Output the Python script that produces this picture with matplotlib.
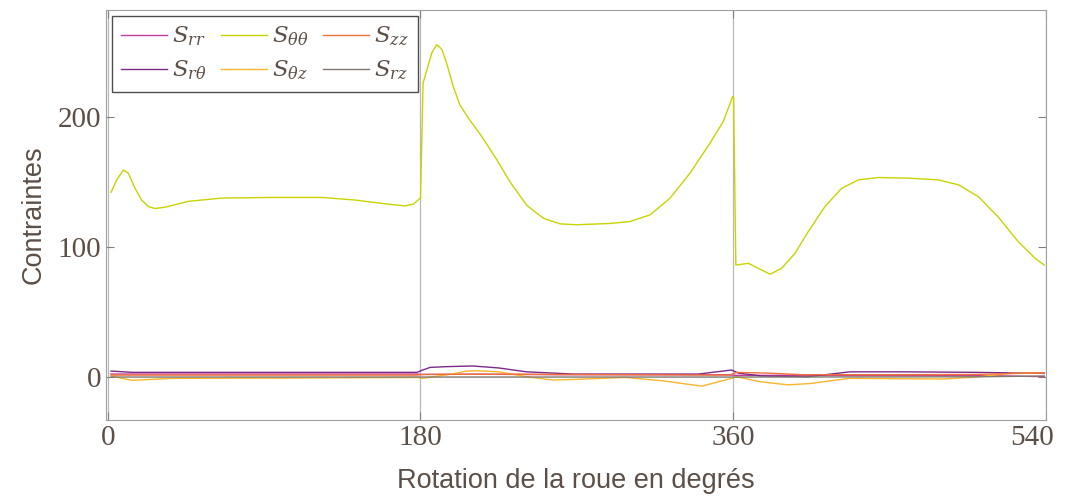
import matplotlib
matplotlib.use('Agg')
import matplotlib.pyplot as plt
from matplotlib.transforms import ScaledTranslation

plt.rcParams['mathtext.fontset'] = 'dejavuserif'

text_col = '#5b4f47'

# S_theta_theta (main curve)
x_tt = [1.9, 5.2, 9.0, 11.8, 15.7, 19.5, 23.3, 27.2, 33.0, 46.4, 65.6, 94.4,
        123.1, 142.3, 161.5, 171.1, 175.9, 179.2, 180.0, 181.5, 186.5, 189.3,
        192.2, 195.1, 198.9, 202.7, 207.5, 215.2, 223.9, 231.5, 241.1, 250.7,
        260.3, 269.9, 289.1, 300.6, 312.1, 323.6, 335.1, 346.6, 354.3, 359.7,
        360.2, 361.5, 368.7, 374.4, 381.2, 387.9, 395.5, 403.2, 412.8, 422.4,
        432.0, 443.5, 460.8, 478.0, 489.6, 501.0, 512.5, 524.0, 533.7, 539.0]
y_tt = [142, 151.5, 159, 156.7, 145, 136, 131, 129.5, 130.5, 135, 137.5, 138,
        138, 136, 132.8, 131.5, 132.8, 136.7, 137.5, 226, 249, 255.4,
        252, 241, 223, 209, 199, 185, 167, 150, 132, 122,
        117.7, 117, 118, 119.5, 124.6, 137.4, 156.6, 179.7, 196.4, 215.6,
        215, 86, 87.4, 83.6, 79, 83.6, 95, 111.8, 131, 145,
        151.5, 153.3, 152.8, 151.5, 147.7, 138.7, 123, 104, 91.3, 86]

# small components
x_rt = [1.9, 14, 60, 120, 178, 180.5, 185.5, 195, 210, 225, 241, 268, 300, 340,
        359, 363, 376.5, 403, 427, 460, 500, 539]
s_rt = [4.6, 3.6, 3.6, 3.6, 3.6, 5.0, 7.4, 8.0, 8.5, 7.0, 4.0, 2.3, 2.3, 2.3,
        5.4, 3.0, 0.8, 0.2, 4.0, 4.0, 3.6, 2.8]

x_rr = [1.9, 20, 100, 178, 181, 210, 260, 300, 355, 362, 400, 450, 500, 539]
s_rr = [2.3, 2.3, 2.3, 2.3, 2.0, 2.2, 1.8, 1.8, 1.8, 1.3, 1.3, 1.3, 1.2, 0.3]

x_zz = [1.9, 50, 120, 178, 182, 230, 300, 358, 362, 380, 400, 450, 500, 539]
s_zz = [1.5, 1.5, 1.5, 1.5, 2.0, 2.2, 1.8, 1.5, 3.6, 3.0, 1.8, 1.8, 2.0, 3.3]

x_tz = [1.9, 14, 37, 100, 178, 181, 199, 206, 212, 225, 241, 256, 269, 298,
        320, 342, 359, 362, 375, 391.5, 404, 427, 481, 500, 519, 539]
s_tz = [0.8, -2.5, -1.0, -0.8, -0.3, -1.0, 2.5, 4.5, 4.9, 4.0, 0.3, -2.3,
        -1.8, -0.3, -3.0, -7.0, -1.0, 0.3, -3.5, -6.0, -5.0, -1.0, -1.5,
        0.0, 2.8, 3.3]

x_rz = [1.9, 180, 360, 500, 539]
s_rz = [0.0, 0.0, 0.0, 0.2, 0.8]

fig = plt.figure(figsize=(10.74, 4.98), dpi=100)
ax = fig.add_axes([106 / 1074, 78 / 498, 940 / 1074, 410 / 498])

ax.plot(x_rr, s_rr, color='#c23d9b', lw=1.0, label=r'$S_{rr}$')
ax.plot(x_rt, s_rt, color='#7b2a8a', lw=1.0, label=r'$S_{r\theta}$')
ax.plot(x_tt, y_tt, color='#c8d400', lw=1.0, label=r'$S_{\theta\theta}$')
ax.plot(x_tz, s_tz, color='#f9b52c', lw=1.0, label=r'$S_{\theta z}$')
ax.plot(x_zz, s_zz, color='#f0703a', lw=1.0, label=r'$S_{zz}$')
ax.plot(x_rz, s_rz, color='#807870', lw=1.0, label=r'$S_{rz}$')

ax.set_xlim(-1, 540)
ax.set_ylim(-33, 282)
ax.set_xticks([0, 180, 360, 540])
ax.set_yticks([0, 100, 200])
ax.grid(axis='x', color='#b8b8b8', lw=0.9)
ax.set_axisbelow(True)

for sp in ax.spines.values():
    sp.set_color('#a0a0a0')
ax.tick_params(direction='in', top=True, right=True, color='#808080',
               length=6, labelcolor=text_col, labelsize=21)
for lab in ax.get_xticklabels() + ax.get_yticklabels():
    lab.set_family('Liberation Serif')
# last x label sits a bit to the left so it stays inside the figure
last = ax.get_xticklabels()[-1]
last.set_transform(last.get_transform() +
                   ScaledTranslation(-10 / 72, 0, fig.dpi_scale_trans))

ax.set_xlabel('Rotation de la roue en degrés', fontsize=19.5,
              family='Liberation Sans', color=text_col, labelpad=12)
ax.set_ylabel('Contraintes', fontsize=19.5, family='Liberation Sans',
              color=text_col, labelpad=8)

leg = ax.legend(ncol=3, loc='upper left', fontsize=16.5, frameon=True,
                fancybox=False, edgecolor='#202020', handlelength=2.0,
                handletextpad=0.25, columnspacing=0.6, labelspacing=0.45,
                borderpad=0.4, borderaxespad=0.25)
leg.get_frame().set_linewidth(1.0)
for t in leg.get_texts():
    t.set_color(text_col)

fig.savefig('out.png', dpi=100)
